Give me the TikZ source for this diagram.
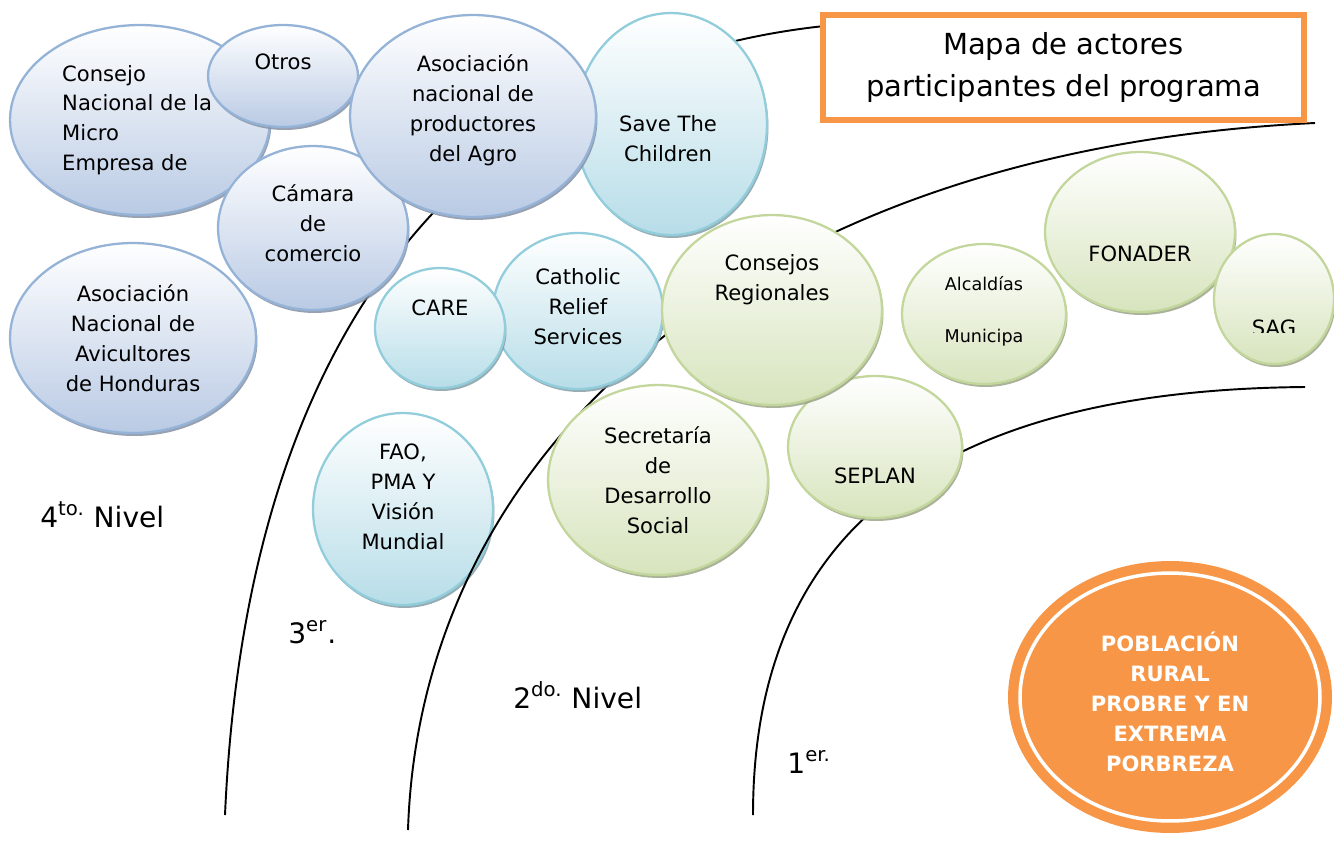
\documentclass[tikz,border=0pt]{standalone}
\usepackage{fontspec}
\setmainfont{DejaVu Sans}
\usepackage{xcolor}
\usepackage{tikz}
\usetikzlibrary{shapes.geometric,shadows,calc,positioning}

\definecolor{azulborde}{HTML}{95B3D7}
\definecolor{azulfondo}{HTML}{B9CAE4}
\definecolor{celeborde}{HTML}{92CDDC}
\definecolor{celefondo}{HTML}{B7DDE8}
\definecolor{verdeborde}{HTML}{C3D69B}
\definecolor{verdefondo}{HTML}{D7E4BD}
\definecolor{naranja}{HTML}{F79646}

\tikzset{
  actor/.style={ellipse, draw, line width=1.3pt, inner sep=0pt,
    drop shadow={shadow xshift=0.03cm, shadow yshift=-0.06cm, opacity=0.85, fill=#1!72!black}},
  nivel4/.style={actor=azulfondo, draw=azulborde, top color=white, bottom color=azulfondo},
  nivel3/.style={actor=celefondo, draw=celeborde, top color=white, bottom color=celefondo},
  nivel2/.style={actor=verdefondo, draw=verdeborde, top color=white, bottom color=verdefondo},
  txt/.style={font=\fontsize{12}{17}\selectfont, align=center, inner sep=0pt},
  nivel/.style={font=\fontsize{16}{19}\selectfont, anchor=base west, inner sep=0pt},
  borde/.style={line width=1.1pt},
}

\begin{document}
\begin{tikzpicture}[x=0.02cm, y=-0.02cm]
  \useasboundingbox (0,0) rectangle (1334,842);

  \node[nivel3, minimum width=3.6cm, minimum height=3.84cm] (n3d) at (403,509) {};

  \draw[borde] (225,815) .. controls (250,250) and (540,35) .. (880,22);
  \draw[borde] (408,830) .. controls (420,450) and (750,150) .. (1315,123);
  \draw[borde] (753,815) .. controls (753,520) and (950,390) .. (1305,387);

  \node[nivel3, minimum width=3.84cm, minimum height=4.44cm] (n3a) at (671,124) {};
  \node[nivel4, minimum width=5.2cm, minimum height=3.8cm] (n4a) at (140,120) {};
  \node[nivel4, minimum width=3cm, minimum height=2.04cm] (n4b) at (283,76) {};
  \node[nivel4, minimum width=3.8cm, minimum height=3.28cm] (n4c) at (313,228) {};
  \node[nivel4, minimum width=4.92cm, minimum height=4.04cm] (n4d) at (473,116) {};
  \node[nivel4, minimum width=4.92cm, minimum height=3.8cm] (n4e) at (133,338) {};
  \node[nivel3, minimum width=3.4cm, minimum height=3.12cm] (n3c) at (578,311) {};
  \node[nivel3, minimum width=2.6cm, minimum height=2.4cm] (n3b) at (440,328) {};
  \node[nivel2, minimum width=4.4cm, minimum height=3.8cm] (n2d) at (658,480) {};
  \node[nivel2, minimum width=3.48cm, minimum height=2.84cm] (n2e) at (875,447) {};
  \node[nivel2, minimum width=4.4cm, minimum height=3.8cm] (n2a) at (772,310) {};
  \node[nivel2, minimum width=3.28cm, minimum height=2.8cm] (n2b) at (984,314) {};
  \node[nivel2, minimum width=3.8cm, minimum height=3.2cm] (n2c) at (1140,232) {};
  \node[nivel2, minimum width=2.4cm, minimum height=2.6cm] (n2f) at (1274,299) {};

  \node[txt, align=left, anchor=west] (t4a) at ($(n4a.west)+(53,0)$) {Consejo\\Nacional de la\\Micro\\Empresa de};
  \node[txt] (t4b) at ($(n4b)+(0,-14)$) {Otros};
  \node[txt] (t4c) at ($(n4c)+(0,-5)$) {Cámara\\de\\comercio};
  \node[txt] (t4d) at ($(n4d)+(0,-6)$) {Asociación\\nacional de\\productores\\del Agro};
  \node[txt] (t4e) at (n4e) {Asociación\\Nacional de\\Avicultores\\de Honduras};
  \node[txt] (t3a) at ($(n3a)+(-3,15)$) {Save The\\Children};
  \node[txt] (t3b) at ($(n3b)+(0,-20)$) {CARE};
  \node[txt] (t3c) at ($(n3c)+(0,-4)$) {Catholic\\Relief\\Services};
  \node[txt] (t3d) at ($(n3d)+(0,-12)$) {FAO,\\PMA Y\\Visión\\Mundial};
  \node[txt] (t2a) at ($(n2a)+(0,-30)$) {Consejos\\Regionales};
  \node[txt, font=\fontsize{10}{29.5}\selectfont] (t2b) at ($(n2b)+(0,-3)$) {Alcaldías\\Municipa};
  \node[txt] (t2c) at ($(n2c)+(0,22)$) {FONADER};
  \node[txt] (t2d) at (n2d) {Secretaría\\de\\Desarrollo\\Social};
  \node[txt] (t2e) at ($(n2e)+(0,29)$) {SEPLAN};
  \begin{scope}
    \clip (1210,300) rectangle (1334,332);
    \node[txt] (t2f) at ($(n2f)+(0,29)$) {SAG};
  \end{scope}

  \node[ellipse, fill=naranja, inner sep=0pt, minimum width=6.48cm, minimum height=5.44cm] (p) at (1170,697) {};
  \node[ellipse, draw=white, line width=2pt, inner sep=0pt, minimum width=6cm, minimum height=4.96cm] (pi) at (p) {};
  \node[txt, text=white, font=\fontsize{12}{17}\selectfont\bfseries] (tp) at ($(p)+(0,5)$) {POBLACIÓN\\RURAL\\PROBRE Y EN\\EXTREMA\\PORBREZA};

  \node[draw=naranja, line width=3pt, fill=white, minimum width=9.62cm, minimum height=2.1cm,
    align=center, font=\fontsize{16.5}{23.8}\selectfont] (titulo) at (1063.5,67.5) {Mapa de actores\\participantes del programa};

  \node[nivel] (l4) at (40,527) {4\textsuperscript{to.} Nivel};
  \node[nivel] (l3) at (288,643) {3\textsuperscript{er}.};
  \node[nivel] (l2) at (513,708) {2\textsuperscript{do.} Nivel};
  \node[nivel] (l1) at (787,773) {1\textsuperscript{er.}};
\end{tikzpicture}
\end{document}
